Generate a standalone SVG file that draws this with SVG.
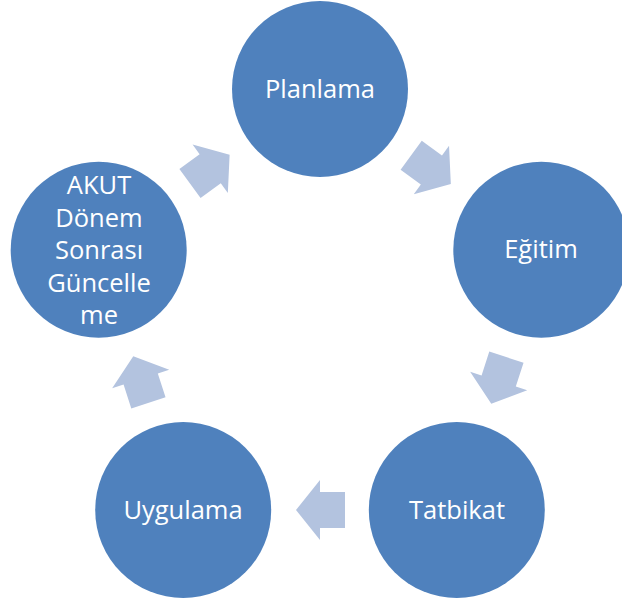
<svg xmlns="http://www.w3.org/2000/svg" width="622" height="602" viewBox="0 0 622 602">
  <defs>
    <style>
      .node { fill: #4F81BD; }
      .label { fill: #FFFFFF; font-family: "Open Sans", "Noto Sans", "Liberation Sans", sans-serif; font-size: 25.5px; text-anchor: middle; }
      .arrow { fill: #B3C3DF; }
    </style>
    <!-- block arrow pointing along +x, centred on the origin -->
    <path id="cycleArrow" d="M-24,-18 H1 V-30 L25,0 L1,30 V18 H-24 Z"/>
  </defs>
  <rect width="622" height="602" fill="#FFFFFF"/>

  <g id="connectors">
    <use href="#cycleArrow" class="arrow" transform="translate(430.6,169.4) rotate(36)"/>
    <use href="#cycleArrow" class="arrow" transform="translate(499,380) rotate(108)"/>
    <use href="#cycleArrow" class="arrow" transform="translate(321,510) rotate(180)"/>
    <use href="#cycleArrow" class="arrow" transform="translate(141,380) rotate(252)"/>
    <use href="#cycleArrow" class="arrow" transform="translate(209.4,169.4) rotate(324)"/>
  </g>

  <g id="planlama">
    <circle class="node" cx="320" cy="89" r="88"/>
    <text class="label" x="320" y="98">Planlama</text>
  </g>

  <g id="egitim">
    <circle class="node" cx="541.3" cy="249.8" r="88"/>
    <text class="label" x="541" y="258">Eğitim</text>
  </g>

  <g id="tatbikat">
    <circle class="node" cx="456.8" cy="510" r="88"/>
    <text class="label" x="457" y="519">Tatbikat</text>
  </g>

  <g id="uygulama">
    <circle class="node" cx="183.2" cy="510" r="88"/>
    <text class="label" x="183" y="519">Uygulama</text>
  </g>

  <g id="akut">
    <circle class="node" cx="98.7" cy="249.8" r="88"/>
    <text class="label" x="99" y="194">AKUT</text>
    <text class="label" x="99" y="227">Dönem</text>
    <text class="label" x="99" y="259">Sonrası</text>
    <text class="label" x="99" y="292">Güncelle</text>
    <text class="label" x="99" y="324">me</text>
  </g>
</svg>
